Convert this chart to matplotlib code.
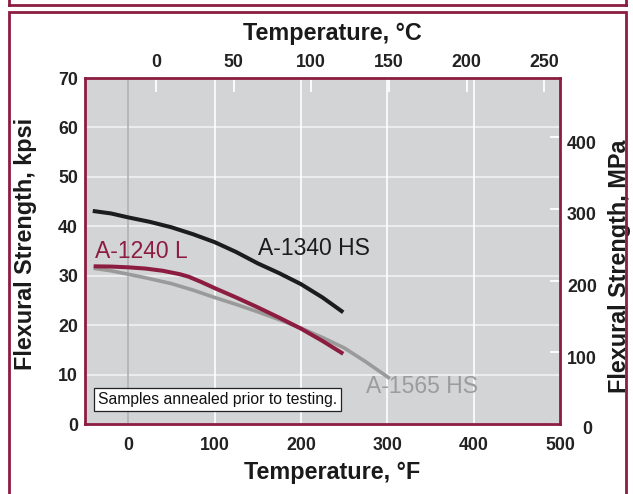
import matplotlib
matplotlib.use("Agg")
import matplotlib.pyplot as plt
from matplotlib.patches import Rectangle
from matplotlib.lines import Line2D
import matplotlib.transforms as mtransforms

plt.rcParams['font.family'] = ['Liberation Sans', 'DejaVu Sans']

# Flexural strength (kpsi) versus temperature (deg F)
temp_f_1340 = [-41, -20, 0, 25, 50, 75, 100, 125, 150, 175, 200, 225, 249]
strength_1340 = [43.1, 42.6, 41.8, 40.9, 39.8, 38.4, 36.8, 34.8, 32.5, 30.5, 28.3, 25.6, 22.6]

temp_f_1240 = [-40, -20, 0, 20, 40, 60, 70, 85, 100, 125, 150, 175, 200, 225, 249]
strength_1240 = [31.9, 31.85, 31.7, 31.45, 31.0, 30.3, 29.8, 28.7, 27.5, 25.6, 23.6, 21.5, 19.3, 16.8, 14.2]

temp_f_1565 = [-40, -20, 0, 25, 50, 75, 100, 125, 150, 175, 200, 225, 250, 275, 303]
strength_1565 = [31.5, 31.0, 30.3, 29.4, 28.4, 27.1, 25.6, 24.2, 22.7, 21.1, 19.4, 17.5, 15.4, 12.6, 9.2]

series_names = ["A-1340 HS", "A-1240 L", "A-1565 HS"]

f_ticks = [0, 100, 200, 300, 400, 500]
c_ticks = [0, 50, 100, 150, 200, 250]
kpsi_ticks = [0, 10, 20, 30, 40, 50, 60, 70]
mpa_ticks = [0, 100, 200, 300, 400]

MAROON = '#8c1d40'
BG = '#d3d4d6'
DARK = '#1c1c1c'
GREY_LINE = '#9a9a9a'
GREY_TEXT = '#9c9c9c'

fig = plt.figure(figsize=(6.33, 4.94), dpi=100)
W, H = 633, 494

# page frame lines
fig.add_artist(Rectangle((8.5 / W, -0.05), (626 - 8.5) / W, (494 - 11.5) / H + 0.05,
                         transform=fig.transFigure, fill=False, edgecolor=MAROON, lw=2.0))
fig.add_artist(Line2D([8.5 / W, 626 / W], [1 - 5 / H, 1 - 5 / H], transform=fig.transFigure,
                      color=MAROON, lw=2.0))
fig.add_artist(Line2D([8.5 / W, 8.5 / W], [1 - 5 / H, 1.0], transform=fig.transFigure,
                      color=MAROON, lw=2.0))
fig.add_artist(Line2D([626 / W, 626 / W], [1 - 5 / H, 1.0], transform=fig.transFigure,
                      color=MAROON, lw=2.0))

ax = fig.add_axes([85 / W, 1 - 424 / H, 475 / W, 346 / H])
ax.set_facecolor(BG)
ax.set_xlim(-50, 500)
ax.set_ylim(0, 70)

# grid
for y in kpsi_ticks[1:-1]:
    ax.axhline(y, color='#f2f2f2', lw=1.2, zorder=1)
for x in f_ticks[1:-1]:
    ax.axvline(x, color='white', lw=1.2, zorder=1)
ax.axvline(0, color='#b4b5b7', lw=1.3, zorder=1)

for s in ax.spines.values():
    s.set_color(MAROON)
    s.set_linewidth(2.0)
    s.set_zorder(5)

tick_font = dict(fontsize=12.8, fontweight='bold', color='#222222')
ax.set_xticks(f_ticks)
ax.set_xticklabels([str(v) for v in f_ticks], **tick_font)
ax.set_yticks(kpsi_ticks)
ax.set_yticklabels([str(v) for v in kpsi_ticks], **tick_font)
ax.tick_params(axis='x', length=0, pad=9)
ax.tick_params(axis='y', length=0, pad=5)

# curves
ax.plot(temp_f_1340, strength_1340, color=DARK, lw=2.9, solid_capstyle='butt', zorder=4)
ax.plot(temp_f_1565, strength_1565, color=GREY_LINE, lw=2.6, solid_capstyle='butt', zorder=3)
ax.plot(temp_f_1240, strength_1240, color=MAROON, lw=2.9, solid_capstyle='butt', zorder=4)

ax.text(150, 35.6, series_names[0], color=DARK, fontsize=16.5, ha='left', va='center', zorder=6)
ax.text(-38.5, 34.8, series_names[1], color=MAROON, fontsize=16.5, ha='left', va='center', zorder=6)
ax.text(275, 7.5, series_names[2], color=GREY_TEXT, fontsize=16.5, ha='left', va='center', zorder=2)

ax.text(-34.5, 4.9, "Samples annealed prior to testing.", fontsize=11.3, color='#111111',
        ha='left', va='center', zorder=6,
        bbox=dict(boxstyle='square,pad=0.25', facecolor='white', edgecolor='#222222', lw=0.9))

# Celsius scale on top
def f2c(f):
    return (f - 32) * 5.0 / 9.0

def c2f(c):
    return c * 9.0 / 5.0 + 32

secx = ax.secondary_xaxis('top', functions=(f2c, c2f))
secx.set_xticks(c_ticks)
secx.set_xticklabels([str(v) for v in c_ticks], **tick_font)
secx.tick_params(axis='x', direction='in', length=10, width=1.3, color='white', pad=5)
secx.spines['top'].set_visible(False)

# MPa scale on the right
def k2m(k):
    return k * 6.895

def m2k(m):
    return m / 6.895

secy = ax.secondary_yaxis('right', functions=(k2m, m2k))
secy.set_yticks(mpa_ticks)
secy.set_yticklabels([str(v) for v in mpa_ticks], **tick_font)
secy.tick_params(axis='y', direction='in', length=7.5, width=1.3, color='white', pad=5)
secy.spines['right'].set_visible(False)
for lbl, val in zip(secy.get_yticklabels(), mpa_ticks):
    if val == 0:
        shift = mtransforms.ScaledTranslation(15 / 100, -3 / 100, fig.dpi_scale_trans)
    else:
        shift = mtransforms.ScaledTranslation(0, -5 / 100, fig.dpi_scale_trans)
    lbl.set_transform(lbl.get_transform() + shift)

label_font = dict(fontsize=16.8, fontweight='bold', color='#1a1a1a')
ax.set_xlabel("Temperature, °F", **label_font)
ax.xaxis.set_label_coords(0.52, -0.1416)
ax.xaxis.label.set_va('center')
ax.set_ylabel("Flexural Strength, kpsi", **label_font)
ax.yaxis.set_label_coords(-0.126, 0.5217)
ax.yaxis.label.set_va('center')

# titles for the secondary scales, placed relative to the main axes
ax.text(0.52, 1.13, "Temperature, °C", transform=ax.transAxes,
        ha='center', va='center', **label_font)
ax.text(1.126, 0.457, "Flexural Strength, MPa", transform=ax.transAxes,
        ha='center', va='center', rotation=90, **label_font)

fig.savefig("out.png", dpi=100)
